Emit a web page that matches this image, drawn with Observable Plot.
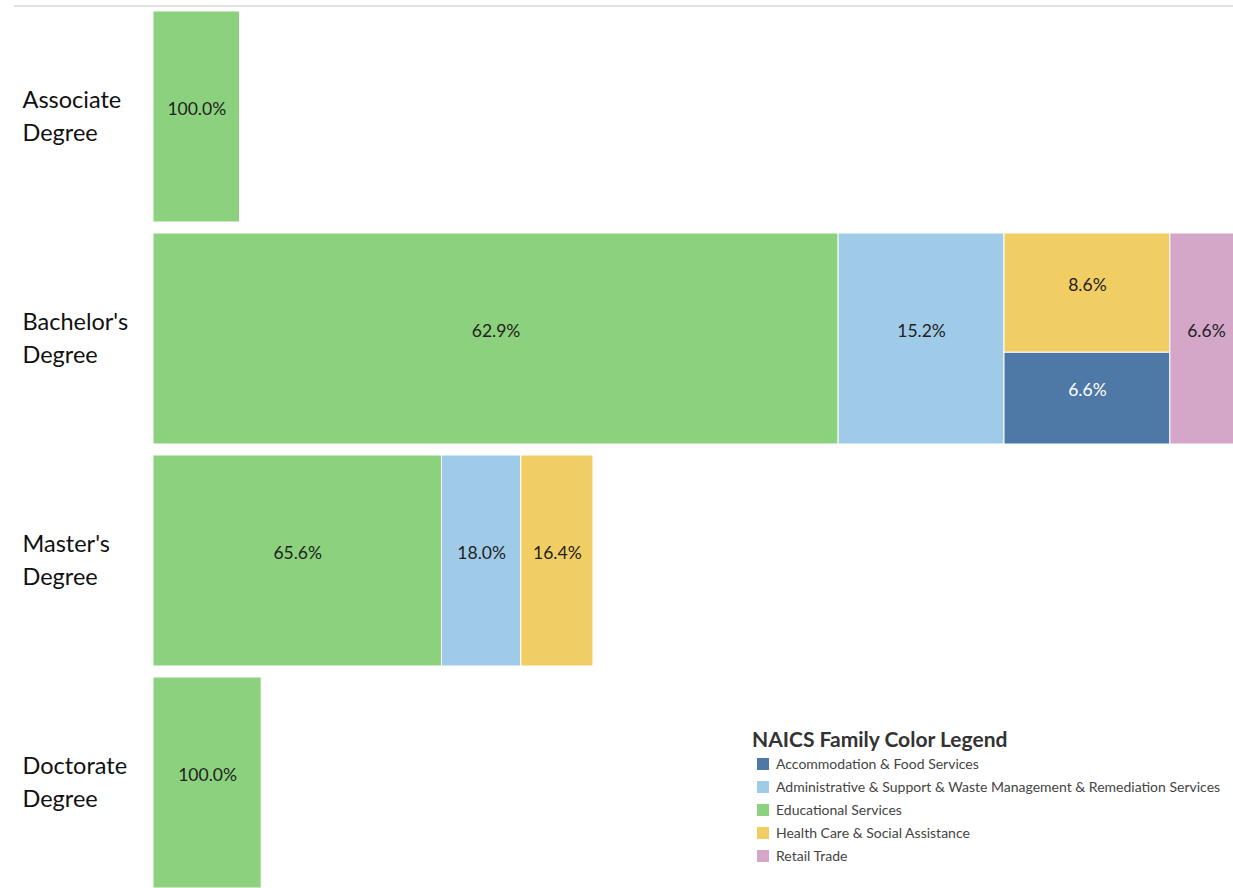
<!DOCTYPE html>
<html><head><meta charset="utf-8">
<script src="https://cdn.jsdelivr.net/npm/d3@7"></script>
<script src="https://cdn.jsdelivr.net/npm/@observablehq/plot@0.6"></script>
<style>
body{margin:0;background:#fff;font-family:Lato,"Open Sans",sans-serif;}
#wrap{position:relative;width:1233px;height:888px;overflow:hidden;}
#chart{position:absolute;left:0;top:0;}
#topline{position:absolute;left:14px;right:0;top:5px;height:0;border-top:2px solid #e2e2e2;z-index:2;}
#legend{position:absolute;left:752px;top:726px;z-index:3;}
#legend .title{font-weight:bold;font-size:21px;color:#333;margin-bottom:0px;line-height:26px;}
#legend .item{display:flex;align-items:center;height:23px;font-size:14px;color:#444;}
#legend .sw{width:12px;height:12px;margin-left:5px;margin-right:7px;}
</style></head>
<body>
<div id="wrap"><div id="chart"></div><div id="topline"></div><div id="legend"></div></div>
<script>
const degrees = ["Associate Degree", "Bachelor's Degree", "Master's Degree", "Doctorate Degree"];
const degreeLabels = ["Associate\nDegree", "Bachelor's\nDegree", "Master's\nDegree", "Doctorate\nDegree"];
const industries = [
  "Accommodation & Food Services",
  "Administrative & Support & Waste Management & Remediation Services",
  "Educational Services",
  "Health Care & Social Assistance",
  "Retail Trade"
];
const industryColors = ["#4e79a7", "#a0cbe8", "#8cd17d", "#f1ce63", "#d4a6c8"];
// counts per industry (same order as industries)
const associateCounts = [0, 0, 12, 0, 0];
const bachelorCounts  = [10, 23, 95, 13, 10];
const masterCounts    = [0, 11, 40, 10, 0];
const doctorateCounts = [0, 0, 15, 0, 0];

const countsByDegree = [associateCounts, bachelorCounts, masterCounts, doctorateCounts];
const totals = countsByDegree.map(c => d3.sum(c));
const maxTotal = d3.max(totals);

const W = 1233, H = 888, mL = 153, mT = 11, gap = 11;
const xRight = 1242; // widest row runs slightly past the visible edge
const bandH = (H - mT - gap * (degrees.length - 1)) / degrees.length;
const pxPerUnit = (xRight - mL) / maxTotal;

const cells = [];
degrees.forEach((deg, i) => {
  const children = industries.map((ind, j) => ({industry: ind, count: countsByDegree[i][j]})).filter(d => d.count > 0);
  const root = d3.hierarchy({children}).sum(d => d.count || 0).sort((a, b) => b.value - a.value);
  d3.treemap().tile(d3.treemapSquarify).size([totals[i] * pxPerUnit, bandH])(root);
  for (const leaf of root.leaves()) {
    cells.push({
      degree: deg, industry: leaf.data.industry, count: leaf.data.count,
      share: leaf.data.count / totals[i],
      x1: leaf.x0 / pxPerUnit, x2: leaf.x1 / pxPerUnit,
      y1: leaf.y0 / bandH, y2: leaf.y1 / bandH
    });
  }
});

const fmt = d3.format(".1%");
const isDark = d => d.industry === industries[0];
const labelOpts = {
  x: d => (d.x1 + d.x2) / 2, y: d => (d.y1 + d.y2) / 2, fy: "degree",
  text: d => fmt(d.share), dy: -8, fontSize: 17.5, fontFamily: "Lato, 'Open Sans', sans-serif"
};

const chart = Plot.plot({
  width: W, height: H,
  marginLeft: mL, marginRight: 0, marginTop: mT, marginBottom: 0,
  x: {domain: [0, maxTotal], range: [mL, xRight], axis: null},
  y: {domain: [0, 1], reverse: true, axis: null},
  fy: {domain: degrees, paddingInner: gap / (bandH + gap), paddingOuter: 0, axis: null},
  color: {domain: industries, range: industryColors},
  style: {fontFamily: "Lato, 'Open Sans', sans-serif", background: "white", overflow: "hidden"},
  marks: [
    Plot.rect(cells, {x1: "x1", x2: "x2", y1: "y1", y2: "y2", fy: "degree", fill: "industry", stroke: "white", strokeWidth: 1}),
    Plot.text(cells.filter(d => !isDark(d)), {...labelOpts, fill: "#222"}),
    Plot.text(cells.filter(isDark), {...labelOpts, fill: "white"}),
    Plot.text(degrees, {fy: d => d, text: (d, i) => degreeLabels[i], frameAnchor: "left", dx: -131, dy: -3, textAnchor: "start",
      fontSize: 23.5, lineHeight: 1.38, fill: "#111"})
  ]
});
document.getElementById("chart").appendChild(chart);

const leg = document.getElementById("legend");
const t = document.createElement("div"); t.className = "title"; t.textContent = "NAICS Family Color Legend"; leg.appendChild(t);
industries.forEach((ind, i) => {
  const it = document.createElement("div"); it.className = "item";
  const sw = document.createElement("span"); sw.className = "sw"; sw.style.background = industryColors[i];
  const tx = document.createElement("span"); tx.textContent = ind;
  it.appendChild(sw); it.appendChild(tx); leg.appendChild(it);
});
</script>
</body></html>
